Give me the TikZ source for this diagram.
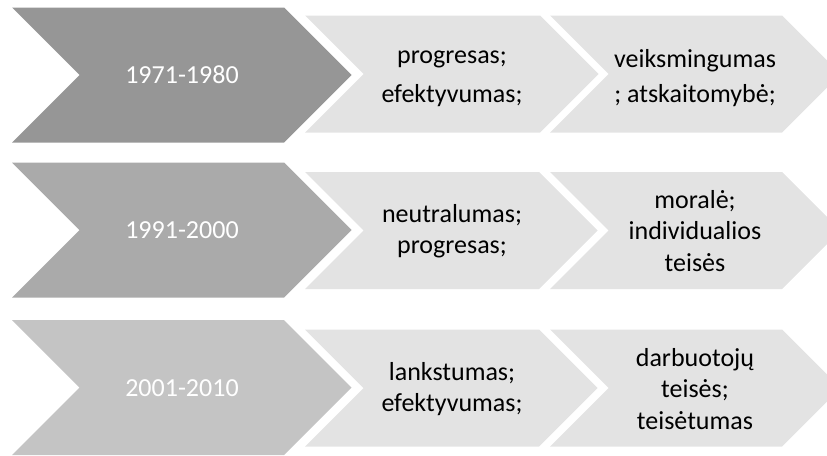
\documentclass[tikz,border=0pt]{standalone}
\usepackage{fontspec}
\setmainfont{Carlito}
\definecolor{dark1}{RGB}{150,150,150}
\definecolor{dark2}{RGB}{170,170,170}
\definecolor{dark3}{RGB}{196,196,196}
\definecolor{lightc}{RGB}{227,227,227}
\newcommand{\chev}[5]{% color, left, right, center, half-height
  \fill[#1] (#2,#4-#5) -- (#3,#4-#5) -- (#3+#5,#4) -- (#3,#4+#5) -- (#2,#4+#5) -- (#2+#5,#4) -- cycle;}
\tikzset{
  yeartext/.style={text=white, font=\fontsize{26}{32}\selectfont, align=center},
  bodytext/.style={text=black, font=\fontsize{26}{31.5}\selectfont, align=center},
}
\begin{document}
\begin{tikzpicture}[x=1pt,y=-1pt]
\path[use as bounding box] (0,0) rectangle (827,455);
\clip (0,0) rectangle (827,455);
% row 1
\chev{dark1}{12}{284}{75}{67.5}
\chev{lightc}{305}{540}{74}{58.5}
\chev{lightc}{550}{782}{74}{58.5}
\node[yeartext] (y1) at (182,75) {1971-1980};
\node[bodytext] (a1) at (452,79) {progresas;\\[8pt]efektyvumas;};
\node[bodytext] (b1) at (695,78) {veiksmingumas\\[3pt]; atskaitomybė;};
% row 2
\chev{dark2}{12}{284}{230}{67.5}
\chev{lightc}{305}{539}{230.5}{58.5}
\chev{lightc}{550}{782}{230.5}{58.5}
\node[yeartext] (y2) at (182,230) {1991-2000};
\node[bodytext] (a2) at (452,231) {neutralumas;\\progresas;};
\node[bodytext] (b2) at (695,231) {moralė;\\individualios\\teisės};
% row 3
\chev{dark3}{12}{284}{387.5}{67.5}
\chev{lightc}{305}{539}{388}{58.5}
\chev{lightc}{550}{782}{388}{58.5}
\node[yeartext] (y3) at (182,388) {2001-2010};
\node[bodytext] (a3) at (452,389) {lankstumas;\\efektyvumas;};
\node[bodytext] (b3) at (695,389) {darbuotojų\\teisės;\\teisėtumas};
\end{tikzpicture}
\end{document}
